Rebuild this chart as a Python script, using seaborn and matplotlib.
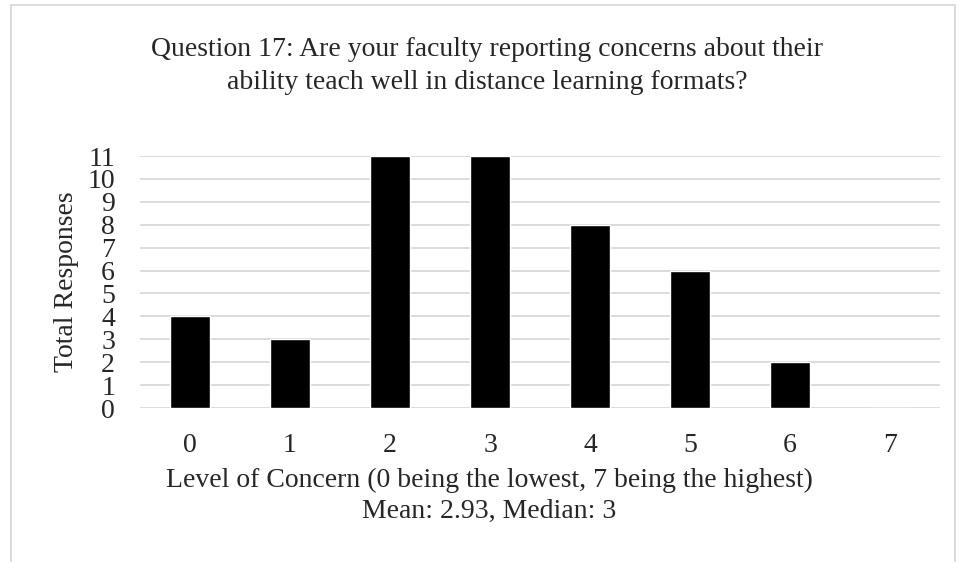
import matplotlib
matplotlib.use("Agg")
import matplotlib.pyplot as plt
import seaborn as sns
import pandas as pd
from matplotlib.patches import Rectangle

# Question 17 responses
levels = ["0", "1", "2", "3", "4", "5", "6", "7"]
responses = [4, 3, 11, 11, 8, 6, 2, 0]

df = pd.DataFrame({"Level": levels, "Responses": responses})

sns.set_style("white")
plt.rcParams["font.family"] = ["Liberation Serif", "DejaVu Serif"]

fig = plt.figure(figsize=(9.6, 5.62), dpi=100)
ax = fig.add_axes([140 / 960, (562 - 408) / 562, 800 / 960, 252 / 562])

sns.barplot(data=df, x="Level", y="Responses", order=levels, color="black",
            width=0.4, saturation=1, ax=ax, zorder=3)

ax.set_ylim(0, 11)
ax.set_yticks(range(0, 12))
ax.yaxis.grid(True, color="#d9d9d9", linewidth=1.3, zorder=0)
ax.set_axisbelow(True)
for s in ax.spines.values():
    s.set_visible(False)
ax.tick_params(axis="both", length=0, labelsize=20)
ax.tick_params(axis="y", pad=18)
ax.tick_params(axis="x", pad=18)
ax.set_xlabel("")
ax.set_ylabel("Total Responses", fontsize=20, labelpad=6)

fig.text(487 / 960, 1 - 66 / 562,
         "Question 17: Are your faculty reporting concerns about their\n"
         "ability teach well in distance learning formats?",
         ha="center", va="center", fontsize=20, linespacing=1.4)
fig.text(489 / 960, 1 - 496 / 562,
         "Level of Concern (0 being the lowest, 7 being the highest)\n"
         "Mean: 2.93, Median: 3",
         ha="center", va="center", fontsize=20, linespacing=1.35)

# outer chart frame
fig.patches.append(Rectangle((11 / 960, -0.1), 944 / 960, 1.1 - 5 / 562,
                             transform=fig.transFigure, fill=False,
                             edgecolor="#d9d9d9", linewidth=1.3))

fig.savefig("out.png", dpi=100)
